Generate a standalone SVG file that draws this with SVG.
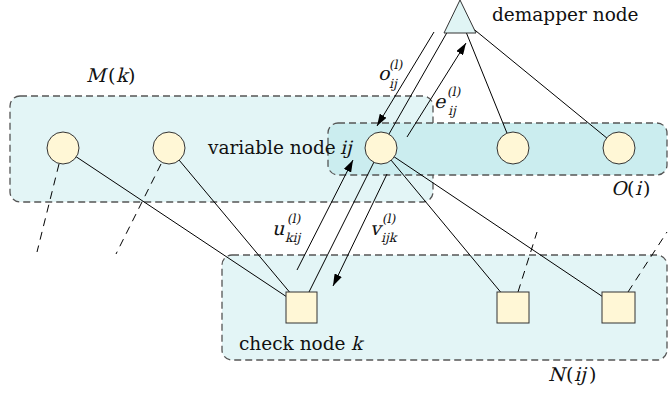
<svg xmlns="http://www.w3.org/2000/svg" width="668" height="400" viewBox="0 0 668 400" font-family="'DejaVu Serif', serif">
<defs>
<style>
.box{stroke:#555;stroke-width:1.3;stroke-dasharray:7 4}
.light{fill:#e3f5f6}
.dark{fill:#cbedef}
.edge{stroke:#000;stroke-width:1;fill:none}
.stub{stroke:#000;stroke-width:1;fill:none;stroke-dasharray:8 6}
.arr{stroke:#000;stroke-width:1;fill:none;marker-end:url(#ah)}
.vn{fill:#fff7d6;stroke:#333;stroke-width:1}
.cn{fill:#fff7d6;stroke:#333;stroke-width:1}
text{fill:#111;font-family:"DejaVu Serif",serif;font-style:normal}
.t{font-size:18.5px}
.m{font-size:19px}
.s{font-size:12.5px}
</style>
<marker id="ah" viewBox="0 0 12 8" refX="12" refY="4" markerWidth="12" markerHeight="8" markerUnits="userSpaceOnUse" orient="auto">
<path d="M0,0 L12,4 L0,8 Z" fill="#000"/>
</marker>
</defs>

<g id="sets">
<rect id="set-M" class="box light" x="10" y="96" width="423" height="106" rx="10"/>
<rect id="set-O" class="box dark" x="328" y="123" width="339" height="52" rx="10"/>
<rect id="set-N" class="box light" x="222" y="255" width="445" height="105" rx="10"/>
</g>

<g id="connectors">
<line class="edge" x1="453" y1="22" x2="381" y2="148"/>
<line class="edge" x1="462" y1="22" x2="513" y2="148"/>
<line class="edge" x1="465" y1="22" x2="619" y2="148"/>
<line class="edge" x1="63" y1="148" x2="302" y2="307"/>
<line class="edge" x1="169" y1="148" x2="302" y2="307"/>
<line class="edge" x1="309" y1="292" x2="381" y2="148"/>
<line class="edge" x1="381" y1="148" x2="513" y2="307"/>
<line class="edge" x1="381" y1="148" x2="618" y2="307"/>
<line class="stub" x1="59" y1="164" x2="37" y2="252"/>
<line class="stub" x1="161" y1="164" x2="116" y2="254"/>
<line class="stub" x1="518" y1="292" x2="537" y2="232"/>
<line class="stub" x1="628" y1="292" x2="667" y2="232"/>
<line class="arr" x1="434" y1="32" x2="377" y2="126"/>
<line class="arr" x1="407" y1="137" x2="466" y2="43"/>
<line class="arr" x1="297" y1="270" x2="353" y2="160"/>
<line class="arr" x1="387" y1="174" x2="333" y2="286"/>
</g>

<g id="demapper">
<polygon points="460,0 444,33 476,33" fill="#e0f5f5" stroke="#333" stroke-width="1"/>
<text class="t" x="492" y="21">demapper node</text>
</g>

<g id="vn1"><circle class="vn" cx="63" cy="148" r="16"/></g>
<g id="vn2"><circle class="vn" cx="169" cy="148" r="16"/></g>
<g id="vn-ij"><circle class="vn" cx="381" cy="148" r="16"/>
<text class="t" x="208" y="154">variable node</text>
<text class="t" transform="translate(340,154) skewX(-14)">ij</text></g>
<g id="vn4"><circle class="vn" cx="513" cy="148" r="16"/></g>
<g id="vn5"><circle class="vn" cx="619" cy="148" r="16"/></g>

<g id="cn-k"><rect class="cn" x="286" y="292" width="31" height="31"/>
<text class="t" x="239" y="350">check node</text>
<text class="t" transform="translate(351,350) skewX(-14)">k</text></g>
<g id="cn2"><rect class="cn" x="497" y="292" width="32" height="31"/></g>
<g id="cn3"><rect class="cn" x="602" y="292" width="33" height="31"/></g>

<g id="labels">
<g id="label-M">
<text class="m" transform="translate(86,82) skewX(-14)">M</text>
<text class="m" x="108" y="82">(</text>
<text class="m" transform="translate(116,82) skewX(-14)">k</text>
<text class="m" x="128" y="82">)</text>
</g>
<g id="label-O">
<text class="m" transform="translate(611,195) skewX(-14)">O</text>
<text class="m" x="627" y="195">(</text>
<text class="m" transform="translate(635,195) skewX(-14)">i</text>
<text class="m" x="643" y="195">)</text>
</g>
<g id="label-N">
<text class="m" transform="translate(548,381) skewX(-14)">N</text>
<text class="m" x="566" y="381">(</text>
<text class="m" transform="translate(574,381) skewX(-14)">ij</text>
<text class="m" x="589" y="381">)</text>
</g>

<g id="label-o">
<text class="m" transform="translate(378,80) skewX(-14)">o</text>
<text class="s" transform="translate(389,69) skewX(-10)">(l)</text>
<text class="s" transform="translate(389,88) skewX(-14)">ij</text>
</g>
<g id="label-e">
<text class="m" transform="translate(434,108) skewX(-14)">e</text>
<text class="s" transform="translate(447,96) skewX(-10)">(l)</text>
<text class="s" transform="translate(448,115) skewX(-14)">ij</text>
</g>
<g id="label-u">
<text class="m" transform="translate(272,235) skewX(-14)">u</text>
<text class="s" transform="translate(287,223) skewX(-10)">(l)</text>
<text class="s" transform="translate(285,242) skewX(-14)">kij</text>
</g>
<g id="label-v">
<text class="m" transform="translate(370,235) skewX(-14)">v</text>
<text class="s" transform="translate(382,223) skewX(-10)">(l)</text>
<text class="s" transform="translate(381,242) skewX(-14)">ijk</text>
</g>
</g>
</svg>
